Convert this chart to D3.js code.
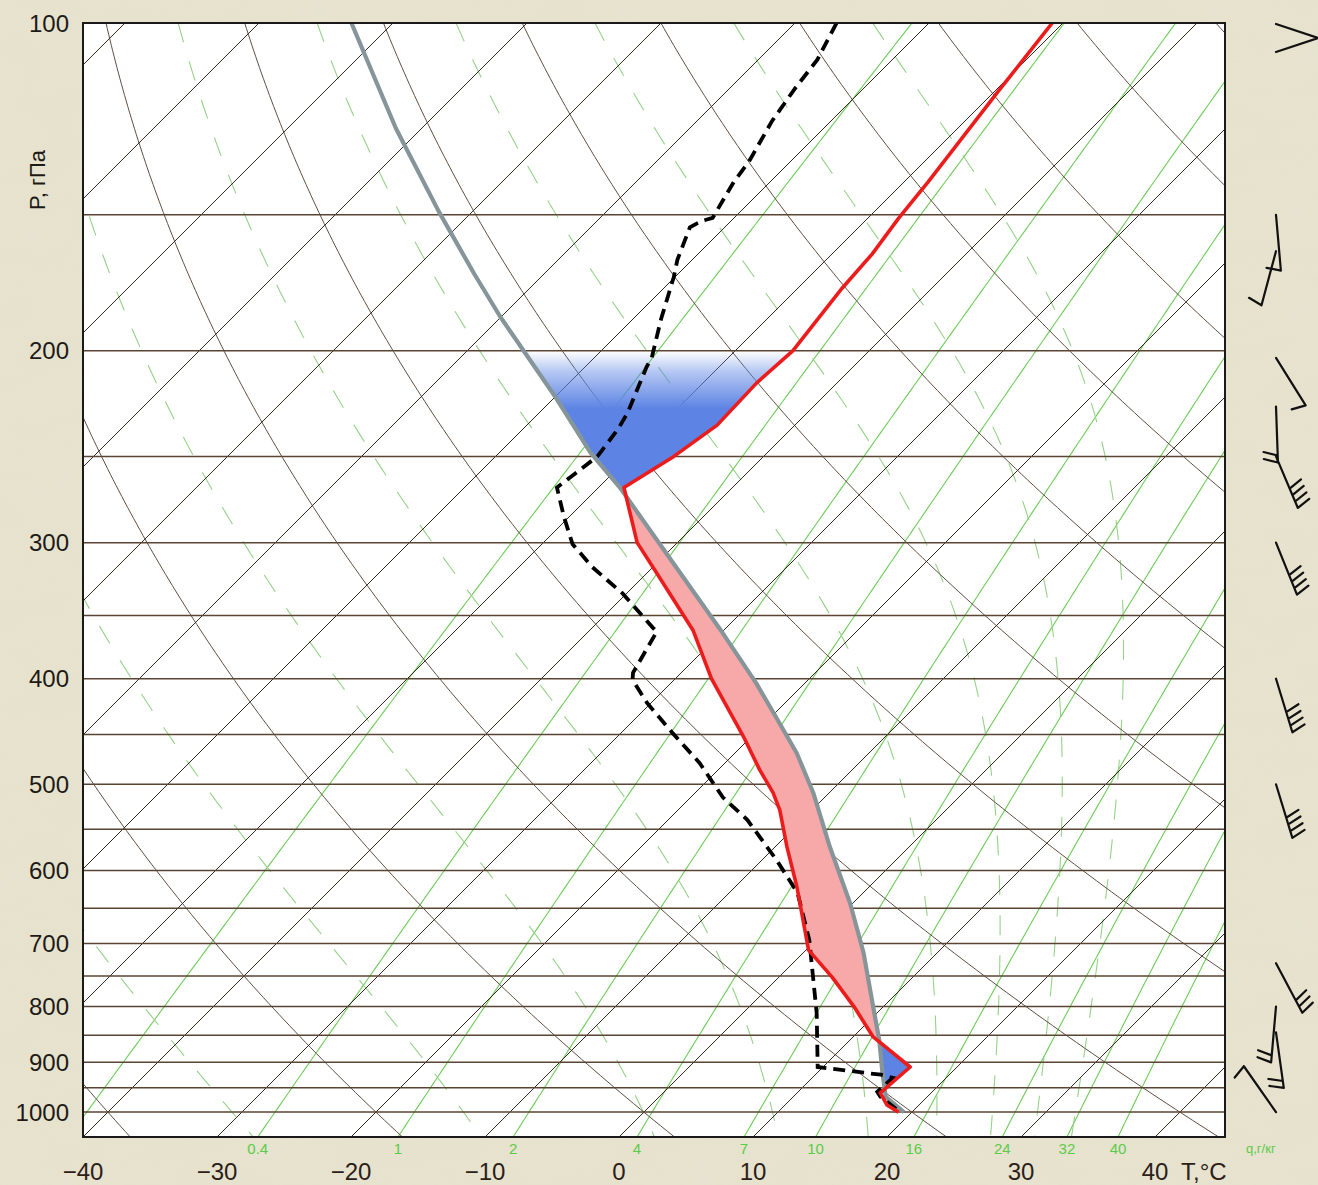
<!DOCTYPE html>
<html>
<head>
<meta charset="utf-8">
<script src="https://cdn.jsdelivr.net/npm/d3@7"></script>
<style>
  body { margin: 0; background: #e4e0ca; }
  svg text { font-family: "Liberation Sans", Arial, sans-serif; }
</style>
</head>
<body>
<svg id="chart"></svg>
<script>
// Aerological diagram (skew-T / log-p) with sounding, parcel curve and winds
const width = 1318;
const height = 1185;
const plot = { left: 83, right: 1225, top: 23, bottom: 1137 };
const pTop = 100, pBottom = 1054;

// sounding: temperature
const tempP = [100, 116, 140, 151, 163, 175, 200, 214, 234, 250, 267, 300, 317, 361, 400, 452, 485, 509, 528, 571, 621, 710, 752, 800, 853, 909, 960, 985, 1000];
const tempT = [-50.8, -49.7, -48.2, -47.7, -47.0, -46.7, -45.7, -46.0, -45.8, -46.7, -48.1, -43.0, -39.8, -32.3, -27.3, -20.6, -16.9, -14.2, -12.4, -9.1, -5.4, 0.2, 4.0, 7.8, 11.5, 16.5, 16.2, 17.6, 19.0];

// sounding: dew point
const dewP = [100, 108, 115, 123, 134, 140, 151, 152, 154, 165, 171, 187, 203, 207, 228, 236, 250, 267, 284, 301, 316, 334, 359, 362, 395, 401, 421, 449, 478, 514, 539, 587, 629, 695, 811, 909, 924, 930, 958, 968, 991, 1000];
const dewT = [-66.9, -65.6, -65.1, -64.4, -63.1, -62.7, -61.6, -62.2, -62.6, -61.1, -60.1, -57.9, -55.7, -55.4, -53.4, -52.9, -52.4, -53.1, -50.4, -47.7, -44.5, -40.3, -35.5, -34.9, -33.6, -33.1, -30.3, -26.1, -21.9, -17.6, -14.1, -8.9, -4.9, -0.5, 5.5, 9.6, 14.9, 16.0, 15.9, 16.5, 18.4, 18.6];

// parcel (state) curve
const parcelP = [100, 125, 149, 170, 186, 220, 248, 267, 307, 363, 404, 434, 468, 509, 571, 643, 714, 811, 859, 921, 968, 1000];
const parcelT = [-103.1, -91.9, -82.5, -75.2, -70.1, -60.1, -53.2, -48.4, -40.0, -29.9, -23.6, -19.6, -15.4, -11.2, -5.9, -0.2, 4.5, 9.8, 12.2, 14.9, 16.9, 19.4];

// energy areas (pressure bounds)
const negTop = [200, 267];
const posArea = [267, 855];
const negLow = [855, 948];

// wind: level, direction (deg), speed (m/s), side of the feathers
const windP = [150, 162, 203, 225, 250, 300, 400, 500, 730, 800, 845, 1000];
const windDir = [175, 195, 148, 178, 157, 158, 163, 163, 152, 185, 172, 325];
const windSpd = [5, 5, 5, 10, 20, 20, 20, 20, 15, 10, 10, 5];
const windSide = [-1, -1, -1, -1, 1, 1, 1, 1, 1, -1, -1, 1];

// grid
const isobars = [100, 150, 200, 250, 300, 350, 400, 450, 500, 550, 600, 650, 700, 750, 800, 850, 900, 950, 1000];
const pLabels = [100, 200, 300, 400, 500, 600, 700, 800, 900, 1000];
const isotherms = d3.range(-130, 50, 10);
const tLabels = [-40, -30, -20, -10, 0, 10, 20, 30, 40];
const dryTheta = d3.range(-80, 221, 20);
const moistTheta = d3.range(-30, 140, 20);
const qLines = [0.1, 0.4, 1, 2, 4, 7, 10, 16, 24, 32, 40];
const qLabels = [0.4, 1, 2, 4, 7, 10, 16, 24, 32, 40];

const svg = d3.select("#chart").attr("width", width).attr("height", height);

const y = d3.scaleLog().domain([pTop, pBottom]).range([plot.top, plot.bottom]);
const xT = d3.scaleLinear().domain([-40, 45.22]).range([plot.left, plot.right]);
const sx = (t, p) => xT(t) + (plot.bottom - y(p));

// background texture
const defs = svg.append("defs");
const tex = defs.append("filter").attr("id", "marble").attr("x", 0).attr("y", 0).attr("width", 1).attr("height", 1);
tex.append("feTurbulence").attr("type", "fractalNoise").attr("baseFrequency", "0.012 0.03").attr("numOctaves", 4).attr("seed", 7);
tex.append("feColorMatrix").attr("values", "0 0 0 0 0.80  0 0 0 0 0.78  0 0 0 0 0.66  0 0 0 -1.2 0.75");
svg.append("rect").attr("width", width).attr("height", height).attr("fill", "#e6e2cd");
svg.append("rect").attr("width", width).attr("height", height).attr("filter", "url(#marble)").attr("opacity", 0.6);

defs.append("clipPath").attr("id", "clip").append("rect")
    .attr("x", plot.left).attr("y", plot.top)
    .attr("width", plot.right - plot.left).attr("height", plot.bottom - plot.top);

const grad = defs.append("linearGradient").attr("id", "fade")
    .attr("gradientUnits", "userSpaceOnUse")
    .attr("x1", 0).attr("x2", 0).attr("y1", y(200)).attr("y2", y(226));
grad.append("stop").attr("offset", 0).attr("stop-color", "#5d84e4").attr("stop-opacity", 0);
grad.append("stop").attr("offset", 0.35).attr("stop-color", "#5d84e4").attr("stop-opacity", 0.45);
grad.append("stop").attr("offset", 1).attr("stop-color", "#5d84e4").attr("stop-opacity", 1);

svg.append("rect")
    .attr("x", plot.left).attr("y", plot.top)
    .attr("width", plot.right - plot.left).attr("height", plot.bottom - plot.top)
    .attr("fill", "#fff");

const g = svg.append("g").attr("clip-path", "url(#clip)");
const logPs = d3.range(0, 201).map(i => pTop * Math.pow(pBottom / pTop, i / 200));
const curve = d3.line().x(d => d[0]).y(d => d[1]);

// mixing ratio lines
function tdFromQ(q, p) {
    const e = q * p / (622 + q);
    const l = Math.log(e / 6.112);
    return 243.5 * l / (17.67 - l);
}
g.append("g").selectAll("path").data(qLines).join("path")
    .attr("d", q => curve(logPs.map(p => [sx(tdFromQ(q, p), p), y(p)])))
    .attr("fill", "none").attr("stroke", "#6dcc58").attr("stroke-width", 1.1);

// moist adiabats, integrated downward from 100 hPa
const Rd = 287.04, Cp = 1005.7, Lv = 2.501e6, eps = 0.622;
function dTdp(p, tk) {
    const tc = tk - 273.15;
    const e = 6.112 * Math.exp(17.67 * tc / (tc + 243.5));
    const rs = eps * e / (p - e);
    return (Rd * tk + Lv * rs) / (p * (Cp + Lv * Lv * rs * eps / (Rd * tk * tk)));
}
function moistPath(thC) {
    let tk = (thC + 273.15) * Math.pow(pTop / 1000, Rd / Cp);
    let p = pTop;
    const pts = [[sx(tk - 273.15, p), y(p)]];
    const dp = 2;
    while (p < pBottom) {
        const k1 = dTdp(p, tk);
        const k2 = dTdp(p + dp / 2, tk + k1 * dp / 2);
        const k3 = dTdp(p + dp / 2, tk + k2 * dp / 2);
        const k4 = dTdp(p + dp, tk + k3 * dp);
        tk += dp * (k1 + 2 * k2 + 2 * k3 + k4) / 6;
        p += dp;
        pts.push([sx(tk - 273.15, p), y(p)]);
    }
    return curve(pts);
}
g.append("g").selectAll("path").data(moistTheta).join("path")
    .attr("d", moistPath)
    .attr("fill", "none").attr("stroke", "#95d288").attr("stroke-width", 1.1)
    .attr("stroke-dasharray", "20,20");

// dry adiabats
g.append("g").selectAll("path").data(dryTheta).join("path")
    .attr("d", th => curve(logPs.map(p => [sx((th + 273.15) * Math.pow(p / 1000, 0.286) - 273.15, p), y(p)])))
    .attr("fill", "none").attr("stroke", "#5f4e42").attr("stroke-width", 1);

// isotherms
g.append("g").selectAll("line").data(isotherms).join("line")
    .attr("x1", t => sx(t, pBottom)).attr("y1", y(pBottom))
    .attr("x2", t => sx(t, pTop)).attr("y2", y(pTop))
    .attr("stroke", "#33261b").attr("stroke-width", 1);

// isobars
g.append("g").selectAll("line").data(isobars).join("line")
    .attr("x1", plot.left).attr("x2", plot.right)
    .attr("y1", p => y(p)).attr("y2", p => y(p))
    .attr("stroke", "#5a4532").attr("stroke-width", 1.5);

// energy areas
function interp(P, T) {
    return p => {
        const lp = Math.log(p);
        for (let i = 0; i < P.length - 1; i++) {
            if (p >= P[i] && p <= P[i + 1]) {
                const t = (lp - Math.log(P[i])) / (Math.log(P[i + 1]) - Math.log(P[i]));
                return T[i] + t * (T[i + 1] - T[i]);
            }
        }
        return p < P[0] ? T[0] : T[T.length - 1];
    };
}
const envT = interp(tempP, tempT);
const parT = interp(parcelP, parcelT);
function levels(a, b) {
    const s = new Set([a, b]);
    tempP.concat(parcelP).forEach(p => { if (p > a && p < b) s.add(p); });
    for (let i = 1; i < 40; i++) s.add(a * Math.pow(b / a, i / 40));
    return Array.from(s).sort((m, n) => m - n);
}
const area = d3.area().y(p => y(p)).x0(p => sx(parT(p), p)).x1(p => sx(envT(p), p));
g.append("path").attr("d", area(levels(negTop[0], negTop[1]))).attr("fill", "url(#fade)");
g.append("path").attr("d", area(levels(posArea[0], posArea[1]))).attr("fill", "#f7a9a9");
g.append("path").attr("d", area(levels(negLow[0], negLow[1]))).attr("fill", "#5d84e4");

// curves
const sounding = d3.line().x(d => sx(d[1], d[0])).y(d => y(d[0]));
g.append("path").attr("d", sounding(d3.zip(parcelP, parcelT)))
    .attr("fill", "none").attr("stroke", "#86959a").attr("stroke-width", 4.2).attr("stroke-linejoin", "round");
g.append("path").attr("d", sounding(d3.zip(dewP, dewT)))
    .attr("fill", "none").attr("stroke", "#000").attr("stroke-width", 3.8).attr("stroke-dasharray", "12,7");
g.append("path").attr("d", sounding(d3.zip(tempP, tempT)))
    .attr("fill", "none").attr("stroke", "#ec1c1c").attr("stroke-width", 3.6).attr("stroke-linejoin", "round");

// frame
svg.append("rect")
    .attr("x", plot.left).attr("y", plot.top)
    .attr("width", plot.right - plot.left).attr("height", plot.bottom - plot.top)
    .attr("fill", "none").attr("stroke", "#1a1a1a").attr("stroke-width", 2);

// labels
svg.append("g").selectAll("text").data(pLabels).join("text")
    .attr("x", 69).attr("y", p => y(p)).attr("dy", "0.36em")
    .attr("text-anchor", "end").attr("font-size", 24).attr("fill", "#1e1a16")
    .text(p => p);
svg.append("text")
    .attr("transform", "translate(45,180) rotate(-90)")
    .attr("text-anchor", "middle").attr("font-size", 22).attr("fill", "#1e1a16")
    .text("P, гПа");
svg.append("g").selectAll("text").data(tLabels).join("text")
    .attr("x", t => xT(t)).attr("y", 1180)
    .attr("text-anchor", "middle").attr("font-size", 24).attr("fill", "#2a2018")
    .text(t => t < 0 ? "\u2212" + Math.abs(t) : t);
svg.append("text").attr("x", 1181).attr("y", 1180).attr("font-size", 24).attr("fill", "#2a2018").text("T,°C");
svg.append("g").selectAll("text").data(qLabels).join("text")
    .attr("x", q => sx(tdFromQ(q, pBottom), pBottom)).attr("y", 1154)
    .attr("text-anchor", "middle").attr("font-size", 15).attr("fill", "#5ccb4a")
    .text(q => q);
svg.append("text").attr("x", 1246).attr("y", 1153).attr("font-size", 13).attr("fill", "#5ccb4a").text("q,г/кг");

// wind barbs
const barbX = 1276;
const barbs = svg.append("g").attr("stroke", "#111").attr("stroke-width", 2.2).attr("fill", "none").attr("stroke-linecap", "round");
barbs.append("path").attr("d", `M${barbX},${y(100) + 1}L1318,${y(100) + 15}M${barbX},${y(100) + 29}L1318,${y(100) + 15}`);
windP.forEach((p, i) => {
    const a = windDir[i] * Math.PI / 180;
    const ux = Math.sin(a), uy = -Math.cos(a);
    const len = 56;
    const x0 = barbX, y0 = y(p);
    const x1 = x0 + ux * len, y1 = y0 + uy * len;
    let d = `M${x0},${y0}L${x1},${y1}`;
    const n = Math.floor(windSpd[i] / 5);
    const px = uy * windSide[i], py = -ux * windSide[i];
    let pos = len;
    for (let k = 0; k < n; k++, pos -= 7) {
        const bx = x0 + ux * pos, by = y0 + uy * pos;
        d += `M${bx},${by}L${bx + px * 14 - ux * 4},${by + py * 14 - uy * 4}`;
    }
    barbs.append("path").attr("d", d);
});
</script>
</body>
</html>
